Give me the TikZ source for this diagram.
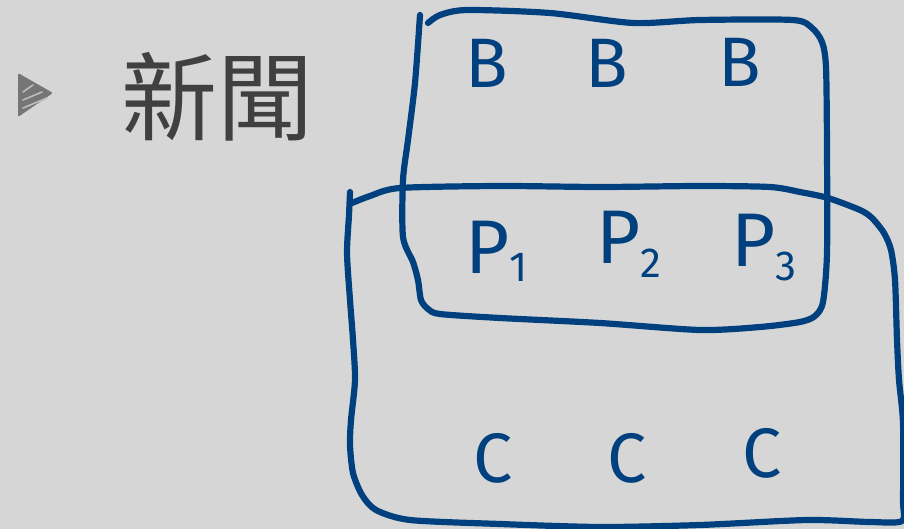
\documentclass[tikz,border=0pt]{standalone}
\usepackage{fontspec}
\newfontfamily\cjk{Noto Sans CJK TC}
\newfontfamily\hand{Fira Sans}
\definecolor{bg}{HTML}{D6D6D6}
\definecolor{ink}{HTML}{00407F}
\definecolor{titlegrey}{HTML}{404040}
\definecolor{bulletgrey}{HTML}{767676}
\definecolor{bulletlight}{HTML}{BDBDBD}
\begin{document}
\begin{tikzpicture}[x=1pt,y=-1pt,
  box/.style={draw=ink,line width=6.2pt,line cap=round,line join=round},
  lett/.style={text=ink,inner sep=0pt,font=\hand\fontsize{70}{70}\selectfont,anchor=base},
  sub/.style={text=ink,inner sep=0pt,font=\hand\fontsize{76}{76}\selectfont,anchor=base west},
  title/.style={text=titlegrey,inner sep=0pt,font=\cjk\fontsize{96}{96}\selectfont}]
\fill[bg] (0,0) rectangle (904,529);
\useasboundingbox (0,0) rectangle (904,529);
% bullet
\fill[bulletgrey,rounded corners=2pt] (18,73) -- (53,93) -- (18,117) -- cycle;
\draw[bulletlight,line width=1.6pt,line cap=round] (23,92) -- (33,85) (23,100) -- (42,92) (23,108) -- (47,98);
% title
\node[title] (title) at (217,97) {新聞};
% upper box
\draw[box] plot[smooth,tension=0.45] coordinates {(420,15) (415,83) (408,140) (403,180) (403,237) (413,262) (418,280) (421,300) (428,309) (440,314) (500,318) (600,323) (700,330) (760,327) (800,322) (815,316) (823,302) (827,253) (827,150) (826,67) (822,42) (812,28) (793,20) (700,20) (633,23) (550,13) (467,10) (440,15) (428,23)};
% lower box
\draw[box] plot[smooth,tension=0.45] coordinates {(350,192) (349,215) (347,253) (350,300) (353,340) (355,380) (351,420) (350,445) (353,473) (362,495) (376,510) (410,520) (500,524) (600,527) (700,525) (807,520) (870,522) (902,521) (903,500) (903,423) (899,380) (897,340) (895,280) (891,250) (884,233) (872,218) (860,210) (828,198) (800,192) (770,187) (700,186) (600,187) (500,186) (400,188) (370,196) (352,203)};
% B row
\node[lett] (b1) at (487,88) {B};
\node[lett] (b2) at (607,88) {B};
\node[lett] (b3) at (740,87) {B};
% P row
\node[sub] (p1) at (465,273) {P\lower8pt\hbox{\fontsize{42}{42}\selectfont 1}};
\node[sub] (p2) at (596,263) {P\lower14pt\hbox{\fontsize{42}{42}\selectfont 2}};
\node[sub] (p3) at (731,266) {P\lower14pt\hbox{\fontsize{42}{42}\selectfont 3}};
% C row
\node[lett] (c1) at (493,482) {C};
\node[lett] (c2) at (627,482) {C};
\node[lett] (c3) at (762,477) {C};
\end{tikzpicture}
\end{document}
